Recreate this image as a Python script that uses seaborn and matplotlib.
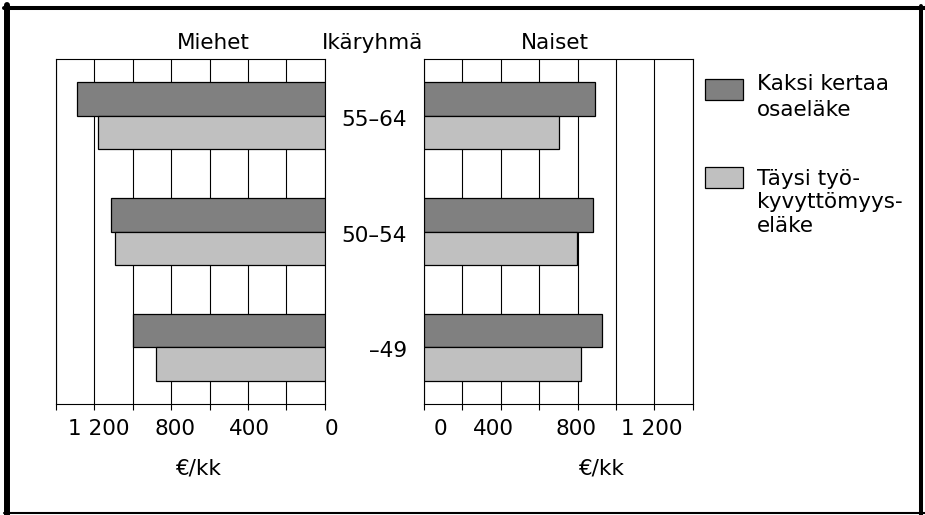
import matplotlib
matplotlib.use("Agg")
import numpy as np
import pandas as pd
import seaborn as sns
import matplotlib.pyplot as plt
from matplotlib import transforms
from matplotlib.patches import Rectangle
from matplotlib.lines import Line2D

# ---- data ----
ages = ['55–64', '50–54', '–49']
series = ['Kaksi kertaa osaeläke', 'Täysi työkyvyttömyyseläke']
men_kaksi = [1290, 1115, 1000]
men_taysi = [1180, 1090, 880]
women_kaksi = [892, 882, 930]
women_taysi = [705, 795, 819]
tick_values = [0, 200, 400, 600, 800, 1000, 1200, 1400]
tick_labels = ['0', '', '400', '', '800', '', '1 200', '']
legend_lines = [['Kaksi kertaa', 'osaeläke'], ['Täysi työ-', 'kyvyttömyys-', 'eläke']]

sns.set_style('white')
plt.rcParams['font.family'] = ['DejaVu Sans']
plt.rcParams['text.color'] = 'black'
plt.rcParams['xtick.color'] = 'black'

FS = 15.5
W, H = 925, 515
fig = plt.figure(figsize=(W / 100, H / 100), dpi=100)
fig.patch.set_facecolor('white')

def fx(px):
    return px / W

def fy(py):
    return 1 - py / H

axL = fig.add_axes([fx(56), fy(404), 268.7 / W, 345 / H])
axR = fig.add_axes([fx(424), fy(404), 268.7 / W, 345 / H])

palette = {series[0]: '#808080', series[1]: '#c0c0c0'}

def make_df(a, b):
    return pd.DataFrame({
        'Ikäryhmä': ages + ages,
        'Sarja': [series[0]] * len(ages) + [series[1]] * len(ages),
        'Arvo': list(a) + list(b),
    })

for ax, df in [(axL, make_df(men_kaksi, men_taysi)), (axR, make_df(women_kaksi, women_taysi))]:
    sns.barplot(data=df, y='Ikäryhmä', x='Arvo', hue='Sarja', order=ages,
                hue_order=series, palette=palette, orient='h', width=0.576,
                edgecolor='black', linewidth=0.9, saturation=1, legend=False,
                ax=ax, zorder=3)
    ax.set_ylim(2.49, -0.49)
    ax.set_yticks([])
    ax.set_ylabel('')
    ax.set_xlabel('')
    ax.set_xticks(tick_values)
    ax.set_xticklabels(tick_labels, fontsize=FS)
    ax.tick_params(axis='x', direction='out', length=4, width=0.8, pad=7,
                   color='black', bottom=True, labelcolor='black')
    ax.xaxis.grid(True, color='black', lw=0.8)
    ax.yaxis.grid(False)
    ax.set_axisbelow(True)
    for sp in ax.spines.values():
        sp.set_visible(True)
        sp.set_color('black')
        sp.set_linewidth(0.8)
    ax.set_facecolor('white')

axL.set_xlim(1400, 0)
axR.set_xlim(0, 1400)

# small per-label offsets (pixels) to mimic the reference placement
offL = {'0': 7, '400': 1.5, '800': 4, '1 200': 4}
offR = {'0': 16, '400': -7, '800': -2, '1 200': -3}
for ax, offs in [(axL, offL), (axR, offR)]:
    for lab in ax.get_xticklabels():
        t = lab.get_text()
        if t in offs:
            lab.set_transform(lab.get_transform() +
                              transforms.ScaledTranslation(offs[t] / 100, 0, fig.dpi_scale_trans))

# titles
fig.text(fx(213.3), fy(49.3), 'Miehet', ha='center', va='baseline', fontsize=FS, color='black')
fig.text(fx(423), fy(49.3), 'Ikäryhmä', ha='right', va='baseline', fontsize=FS, color='black')
fig.text(fx(555), fy(49.3), 'Naiset', ha='center', va='baseline', fontsize=FS, color='black')

# age group labels between panels
trans = transforms.blended_transform_factory(fig.transFigure, axL.transData)
for i, a in enumerate(ages):
    fig.text(fx(407), i + 0.035, a, ha='right', va='center', fontsize=FS,
             color='black', transform=trans)

# unit labels
fig.text(fx(197.5), fy(469), '€/kk', ha='center', va='center', fontsize=FS, color='black')
fig.text(fx(600.5), fy(469), '€/kk', ha='center', va='center', fontsize=FS, color='black')

# legend
patch_boxes = [(79.3, 100), (167, 188)]
for (top, bot), s in zip(patch_boxes, series):
    fig.add_artist(Rectangle((fx(705), fy(bot)), 37.7 / W, (bot - top) / H,
                             transform=fig.transFigure, facecolor=palette[s],
                             edgecolor='black', lw=0.9))
baselines = [[90, 115.5], [185, 208.5, 232]]
for lines, bls in zip(legend_lines, baselines):
    for txt, b in zip(lines, bls):
        fig.text(fx(757), fy(b), txt, ha='left', va='baseline', fontsize=FS, color='black')

# frame around the figure
fig.add_artist(Line2D([fx(7), fx(7)], [fy(5), fy(515)], transform=fig.transFigure, color='black', lw=4.3))
fig.add_artist(Line2D([fx(4), fx(925)], [fy(8), fy(8)], transform=fig.transFigure, color='black', lw=2.9))
fig.add_artist(Line2D([fx(921), fx(921)], [fy(6), fy(515)], transform=fig.transFigure, color='black', lw=2.9))
fig.add_artist(Line2D([fx(4), fx(925)], [fy(513), fy(513)], transform=fig.transFigure, color='black', lw=1.5))

fig.savefig('out.png', dpi=100)
